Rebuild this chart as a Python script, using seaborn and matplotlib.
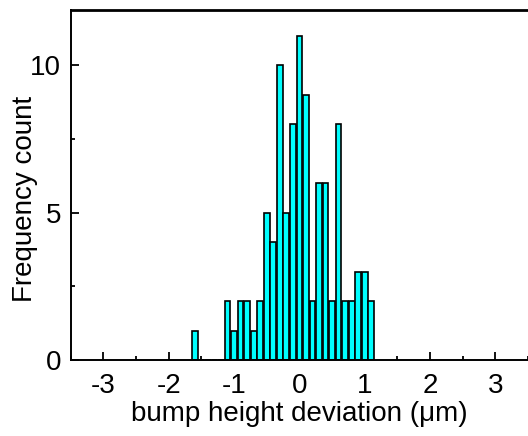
import numpy as np
import pandas as pd
import matplotlib
matplotlib.use("Agg")
import matplotlib.pyplot as plt
import seaborn as sns
from matplotlib.ticker import MultipleLocator

# Data (bin centers, width 0.1 um)
bin_centers = [-1.6, -1.1, -1.0, -0.9, -0.8, -0.7, -0.6, -0.5, -0.4, -0.3, -0.2,
               -0.1, 0.0, 0.1, 0.2, 0.3, 0.4, 0.5, 0.6, 0.7, 0.8, 0.9, 1.0, 1.1]
counts = [1, 2, 1, 2, 2, 1, 2, 5, 4, 10, 5,
          8, 11, 9, 2, 6, 6, 2, 8, 2, 2, 3, 3, 2]
x_ticks = [-3, -2, -1, 0, 1, 2, 3]
y_ticks = [0, 5, 10]

df = pd.DataFrame({"deviation": bin_centers, "count": counts})

sns.set_theme(style="white")
plt.rcParams['font.family'] = ['Liberation Sans', 'DejaVu Sans']

fig = plt.figure(figsize=(5.28, 4.36), dpi=100)
ax = fig.add_axes([0.134, 0.1743, 0.866, 0.8027])

sns.histplot(data=df, x="deviation", weights="count", binwidth=0.1,
             binrange=(-1.65, 1.15), shrink=0.88, color="#00FFFF",
             edgecolor="black", linewidth=1.2, alpha=1.0, ax=ax)

ax.set_xlim(-3.5, 3.5)
ax.set_ylim(0, 11.87)
ax.set_xticks(x_ticks)
ax.set_xticklabels([str(v) for v in x_ticks])
ax.set_yticks(y_ticks)
ax.xaxis.set_minor_locator(MultipleLocator(0.5))
ax.yaxis.set_minor_locator(MultipleLocator(2.5))

ax.tick_params(axis="both", which="major", direction="in", length=6, width=1.3,
               labelsize=20, color="black", labelcolor="black")
ax.tick_params(axis="both", which="minor", direction="in", length=3, width=1.3,
               color="black")
ax.tick_params(axis="x", which="major", pad=9)
ax.tick_params(axis="y", which="major", pad=7)
ax.tick_params(top=False, right=False, which="both")
ax.tick_params(axis="both", which="both", bottom=True, left=True)

for side in ["left", "bottom"]:
    ax.spines[side].set_visible(True)
    ax.spines[side].set_color("black")
    ax.spines[side].set_linewidth(1.4)
ax.spines["top"].set_visible(True)
ax.spines["top"].set_color("black")
ax.spines["top"].set_linewidth(2.0)
ax.spines["right"].set_visible(False)

ax.set_xlabel("bump height deviation (μm)", fontsize=20, color="black")
ax.set_ylabel("Frequency count", fontsize=20, color="black")
ax.xaxis.set_label_coords(0.5, -0.118)
ax.yaxis.set_label_coords(-0.072, 0.46)

fig.savefig("out.png", dpi=100)
